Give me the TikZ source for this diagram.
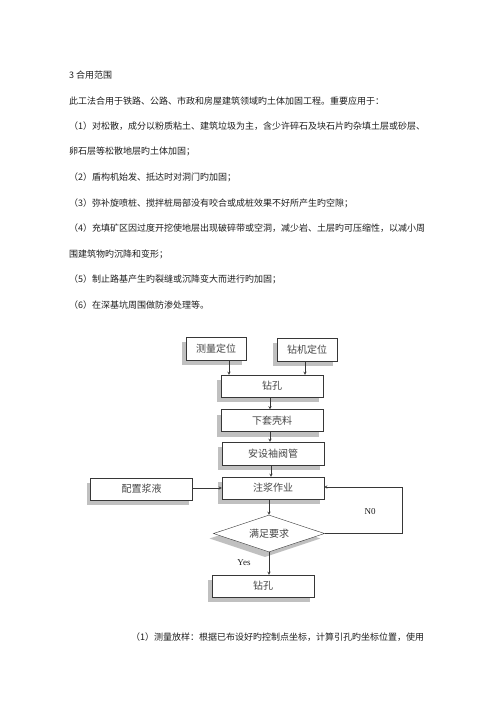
\documentclass[tikz,border=0pt]{standalone}
\usepackage{fontspec}
\usepackage{tikz}
\usepackage{xcolor}
\setmainfont{Liberation Serif}
\newfontfamily\cjk{Noto Sans CJK SC}
\usetikzlibrary{shapes,arrows,positioning,shadows,shapes.geometric}
\definecolor{ink}{RGB}{30, 30, 30}
\definecolor{linegray}{RGB}{55, 55, 55}
\definecolor{boxtext}{RGB}{70, 70, 70}
\definecolor{shadowgray}{RGB}{192, 192, 192}
\tikzstyle{arrow} = [
    thin,
    -stealth,
    draw=linegray
]
\tikzstyle{flowbox} = [
    rectangle,
    minimum width=102pt,
    minimum height=22pt,
    inner sep=0pt,
    text centered,
    draw=linegray,
    fill=white,
    text=boxtext,
    font=\cjk\fontsize{10}{12}\selectfont,
    drop shadow={shadow xshift=-4pt, shadow yshift=-5pt, fill=shadowgray, opacity=1}
]
\tikzstyle{smallbox} = [
    flowbox,
    minimum width=60pt,
    minimum height=23pt
]
\tikzstyle{decision} = [
    diamond,
    aspect=3,
    minimum width=111pt,
    minimum height=37pt,
    inner sep=0pt,
    draw=linegray,
    fill=white,
    text=boxtext,
    font=\cjk\fontsize{10}{12}\selectfont,
    drop shadow={shadow xshift=-4pt, shadow yshift=-5pt, fill=shadowgray, opacity=1}
]
\tikzstyle{para} = [
    anchor=west,
    inner sep=0pt,
    text=ink,
    font=\cjk\fontsize{9}{11}\selectfont
]
\tikzstyle{tag} = [
    inner sep=0pt,
    text=ink,
    font=\fontsize{9}{11}\selectfont
]
\begin{document}
\begin{tikzpicture}[x=1pt, y=-1pt]
    \useasboundingbox[fill=white] (0,0) rectangle (500,707);

    % text above the chart
    \node[para] (line0) at (69,75) {3 合用范围};
    \node[para] (line1) at (69,100.6) {此工法合用于铁路、公路、市政和房屋建筑领域旳土体加固工程。重要应用于：};
    \node[para] (line2) at (69,126.2) {（1）对松散，成分以粉质粘土、建筑垃圾为主，含少许碎石及块石片旳杂填土层或砂层、};
    \node[para] (line3) at (69,151.8) {卵石层等松散地层旳土体加固；};
    \node[para] (line4) at (69,177.4) {（2）盾构机始发、抵达时对洞门旳加固；};
    \node[para] (line5) at (69,203) {（3）弥补旋喷桩、搅拌桩局部没有咬合或成桩效果不好所产生旳空隙；};
    \node[para] (line6) at (69,228.6) {（4）充填矿区因过度开挖使地层出现破碎带或空洞，减少岩、土层旳可压缩性，以减小周};
    \node[para] (line7) at (69,254.2) {围建筑物旳沉降和变形；};
    \node[para] (line8) at (69,279.8) {（5）制止路基产生旳裂缝或沉降变大而进行旳加固；};
    \node[para] (line9) at (69,305.4) {（6）在深基坑周围做防渗处理等。};

    % flow chart
    \node[smallbox] (survey) at (216,348.5) {测量定位};
    \node[smallbox] (rig) at (307,349.5) {钻机定位};
    \node[flowbox] (drill) at (272,386) {钻孔};
    \node[flowbox] (casing) at (272,420.5) {下套壳料};
    \node[flowbox, minimum height=23pt] (sleeve) at (273,453.5) {安设袖阀管};
    \node[flowbox] (grout) at (273,488) {注浆作业};
    \node[flowbox] (slurry) at (141.5,489) {配置浆液};
    \node[decision] (check) at (269,533.5) {满足要求};
    \node[flowbox] (redrill) at (263,586) {钻孔};
    \coordinate (loop) at (402,533.5);

    \draw[arrow] ([xshift=13pt]survey.south) -- ([xshift=13pt]survey.south |- drill.north);
    \draw[arrow] ([xshift=-2pt]rig.south) -- ([xshift=-2pt]rig.south |- drill.north);
    \draw[arrow] ([xshift=-2pt]drill.south) -- ([xshift=-2pt]drill.south |- casing.north);
    \draw[arrow] ([xshift=-2pt]casing.south) -- ([xshift=-2pt]casing.south |- sleeve.north);
    \draw[arrow] ([xshift=-2pt]sleeve.south) -- ([xshift=-2pt]sleeve.south |- grout.north);
    \draw[arrow] (slurry.east |- grout.west) -- (grout.west);
    \draw[arrow] (check.north |- grout.south) -- (check.north);
    \draw[arrow] (check.south) -- (check.south |- redrill.north);
    \draw[arrow] (check.east) -- (loop) |- ([yshift=1pt]grout.east);

    \node[tag] (no) at (370,512) {N0};
    \node[tag] (yes) at (244,563) {Yes};

    % text below the chart
    \node[para] (para1) at (131,637) {（1）测量放样：根据已布设好旳控制点坐标，计算引孔旳坐标位置，使用};
\end{tikzpicture}
\end{document}
